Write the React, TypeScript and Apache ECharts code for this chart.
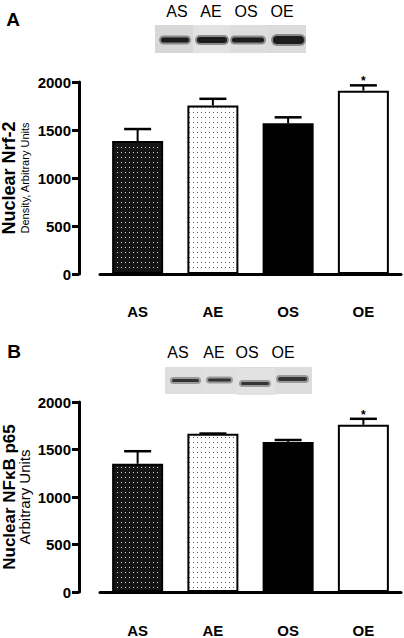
import React, { useEffect, useRef } from 'react';
import * as echarts from 'echarts';

// ---- data ----
const categories = ['AS', 'AE', 'OS', 'OE'];
const nrf2Means = [1385, 1755, 1570, 1910];
const nrf2Upper = [1510, 1825, 1632, 1965];
const nfkbMeans = [1350, 1665, 1580, 1760];
const nfkbUpper = [1482, 1668, 1600, 1823];
const significance = ['', '', '', '*'];
const blotLabels = ['AS', 'AE', 'OS', 'OE'];
const yMin = 0;
const yMax = 2000;
const yInterval = 500;

const FONT = '"Liberation Sans", Arial, Helvetica, sans-serif';

function makeDots(bg: string, dot: string, w: number, h: number, pts: number[][]) {
  const c = document.createElement('canvas');
  c.width = w;
  c.height = h;
  const ctx = c.getContext('2d')!;
  ctx.fillStyle = bg;
  ctx.fillRect(0, 0, w, h);
  ctx.fillStyle = dot;
  pts.forEach(([x, y]) => ctx.fillRect(x, y, 1, 1));
  return { image: c, repeat: 'repeat', imageWidth: w, imageHeight: h } as any;
}

function errorSeries(idx: number, means: number[], uppers: number[]) {
  return {
    type: 'custom',
    xAxisIndex: idx,
    yAxisIndex: idx,
    z: 5,
    silent: true,
    data: means.map((m, i) => [i, m, uppers[i]]),
    renderItem: (params: any, api: any) => {
      const i = api.value(0);
      const top = api.coord([i, api.value(1)]);
      const up = api.coord([i, api.value(2)]);
      const half = 13.5;
      const children: any[] = [
        { type: 'line', shape: { x1: top[0], y1: top[1], x2: up[0], y2: up[1] }, style: { stroke: '#000', lineWidth: 2 } },
        { type: 'line', shape: { x1: up[0] - half, y1: up[1], x2: up[0] + half, y2: up[1] }, style: { stroke: '#000', lineWidth: 2.5 } },
      ];
      const s = significance[i];
      if (s) {
        children.push({
          type: 'text',
          style: { text: s, x: up[0], y: up[1] - 4, textAlign: 'center', textVerticalAlign: 'middle', font: `bold 12px ${FONT}`, fill: '#000' },
        });
      }
      return { type: 'group', children };
    },
  };
}

function blot(x: number, y: number, w: number, h: number, lanes: any[], bands: any[], bandColor: string, haloColor: string) {
  const children: any[] = [
    { type: 'rect', shape: { x, y, width: w, height: h }, style: { fill: '#dcdcdc' } },
  ];
  lanes.forEach((l) => children.push({ type: 'rect', shape: l.shape, style: { fill: l.fill } }));
  bands.forEach((b) => {
    const hh = b[2] + 4;
    children.push({
      type: 'rect',
      shape: { x: b[0] - 1, y: b[1] - hh / 2, width: b[3] + 2, height: hh, r: hh / 2 },
      style: { fill: haloColor },
    });
    children.push({
      type: 'rect',
      shape: { x: b[0] + 1, y: b[1] - b[2] / 2, width: b[3] - 2, height: b[2], r: b[2] / 2 },
      style: { fill: bandColor },
    });
  });
  return { type: 'group', children };
}

export default function App() {
  const ref = useRef<HTMLDivElement>(null);
  useEffect(() => {
    document.body.style.margin = '0';
    const chart = echarts.init(ref.current!, undefined, { renderer: 'svg' });
    const asPat = makeDots('#151515', '#d8d8d8', 4, 5, [[1, 2]]);
    const aePat = makeDots('#ffffff', '#555555', 4, 5, [[1, 2]]);
    const fills = [asPat, aePat, '#000000', '#ffffff'];

    const barData = (vals: number[]) =>
      vals.map((v, i) => ({ value: v, itemStyle: { color: fills[i], borderColor: '#000', borderWidth: 2 } }));

    const xAxis = (gi: number) => ({
      type: 'category',
      gridIndex: gi,
      data: categories,
      offset: gi === 0 ? 21 : 22,
      axisLine: { lineStyle: { color: '#000', width: 3 } },
      axisTick: { show: false },
      axisLabel: { color: '#000', fontWeight: 'bold', fontSize: 15, fontFamily: FONT, margin: 9 },
    });
    const yAxis = (gi: number) => ({
      type: 'value',
      gridIndex: gi,
      min: yMin,
      max: yMax,
      interval: yInterval,
      offset: 21,
      splitLine: { show: false },
      axisLine: { show: true, lineStyle: { color: '#000', width: 3 } },
      axisTick: { show: true, length: 7, lineStyle: { color: '#000', width: 3 } },
      axisLabel: {
        color: '#000', fontWeight: 'bold', fontSize: 15, fontFamily: FONT, margin: 8,
        formatter: (v: number) => String(v),
      },
    });

    const rotText = (text: string, x: number, y: number, size: number, bold: boolean) => ({
      type: 'text',
      x,
      y,
      rotation: Math.PI / 2,
      style: { text, textAlign: 'center', textVerticalAlign: 'middle', font: `${bold ? 'bold ' : ''}${size}px ${FONT}`, fill: '#000' },
    });

    const plainText = (text: string, x: number, y: number, size: number, bold: boolean) => ({
      type: 'text',
      x,
      y,
      style: { text, textAlign: 'center', textVerticalAlign: 'middle', font: `${bold ? 'bold ' : ''}${size}px ${FONT}`, fill: '#000' },
    });

    const aLabelX = [177, 211, 246, 282];
    const bLabelX = [178, 214, 247, 283];

    chart.setOption({
      animation: false,
      backgroundColor: '#fff',
      grid: [
        { left: 100, right: 3, top: 82, height: 192 },
        { left: 100, right: 3, top: 402, height: 192 },
      ],
      xAxis: [xAxis(0), xAxis(1)],
      yAxis: [yAxis(0), yAxis(1)],
      series: [
        { type: 'bar', xAxisIndex: 0, yAxisIndex: 0, barWidth: 51, data: barData(nrf2Means) },
        { type: 'bar', xAxisIndex: 1, yAxisIndex: 1, barWidth: 51, data: barData(nfkbMeans) },
        errorSeries(0, nrf2Means, nrf2Upper),
        errorSeries(1, nfkbMeans, nfkbUpper),
      ],
      graphic: [
        plainText('A', 13, 19, 19, true),
        plainText('B', 14, 351, 19, true),
        ...blotLabels.map((t, i) => plainText(t, aLabelX[i], 11, 16, false)),
        ...blotLabels.map((t, i) => plainText(t, bLabelX[i], 352, 16, false)),
        blot(
          155, 25, 151, 28,
          [
            { shape: { x: 155, y: 25, width: 38, height: 28 }, fill: '#d8d8d8' },
            { shape: { x: 193, y: 25, width: 37, height: 28 }, fill: '#e2e2e2' },
            { shape: { x: 230, y: 25, width: 38, height: 28 }, fill: '#dddddd' },
            { shape: { x: 268, y: 25, width: 38, height: 28 }, fill: '#dbdbdb' },
          ],
          [
            [160, 40, 5, 30],
            [196, 40, 6, 32],
            [231, 40, 5, 34],
            [272, 40, 8, 33],
          ],
          '#1c1c1c',
          '#8a8a8a'
        ),
        blot(
          165, 367, 147, 27,
          [
            { shape: { x: 165, y: 367, width: 37, height: 27 }, fill: '#dedede' },
            { shape: { x: 202, y: 367, width: 35, height: 27 }, fill: '#e0e0e0' },
            { shape: { x: 237, y: 368, width: 38, height: 27 }, fill: '#e2e2e2' },
            { shape: { x: 275, y: 367, width: 37, height: 27 }, fill: '#dddddd' },
          ],
          [
            [171, 380.5, 3, 29],
            [207, 380, 3, 25],
            [240, 383.5, 3, 30],
            [277, 379, 4, 31],
          ],
          '#333333',
          '#9a9a9a'
        ),
        rotText('Nuclear Nrf-2', 9, 178, 18, true),
        rotText('Density, Arbitrary Units', 25, 178, 11, false),
        rotText('Nuclear NFκB p65', 9, 497, 17, true),
        rotText('Arbitrary Units', 24, 497, 15, false),
      ],
    });
    return () => chart.dispose();
  }, []);
  return <div ref={ref} style={{ position: 'absolute', left: 0, top: 0, width: 404, height: 638, background: '#fff' }} />;
}
